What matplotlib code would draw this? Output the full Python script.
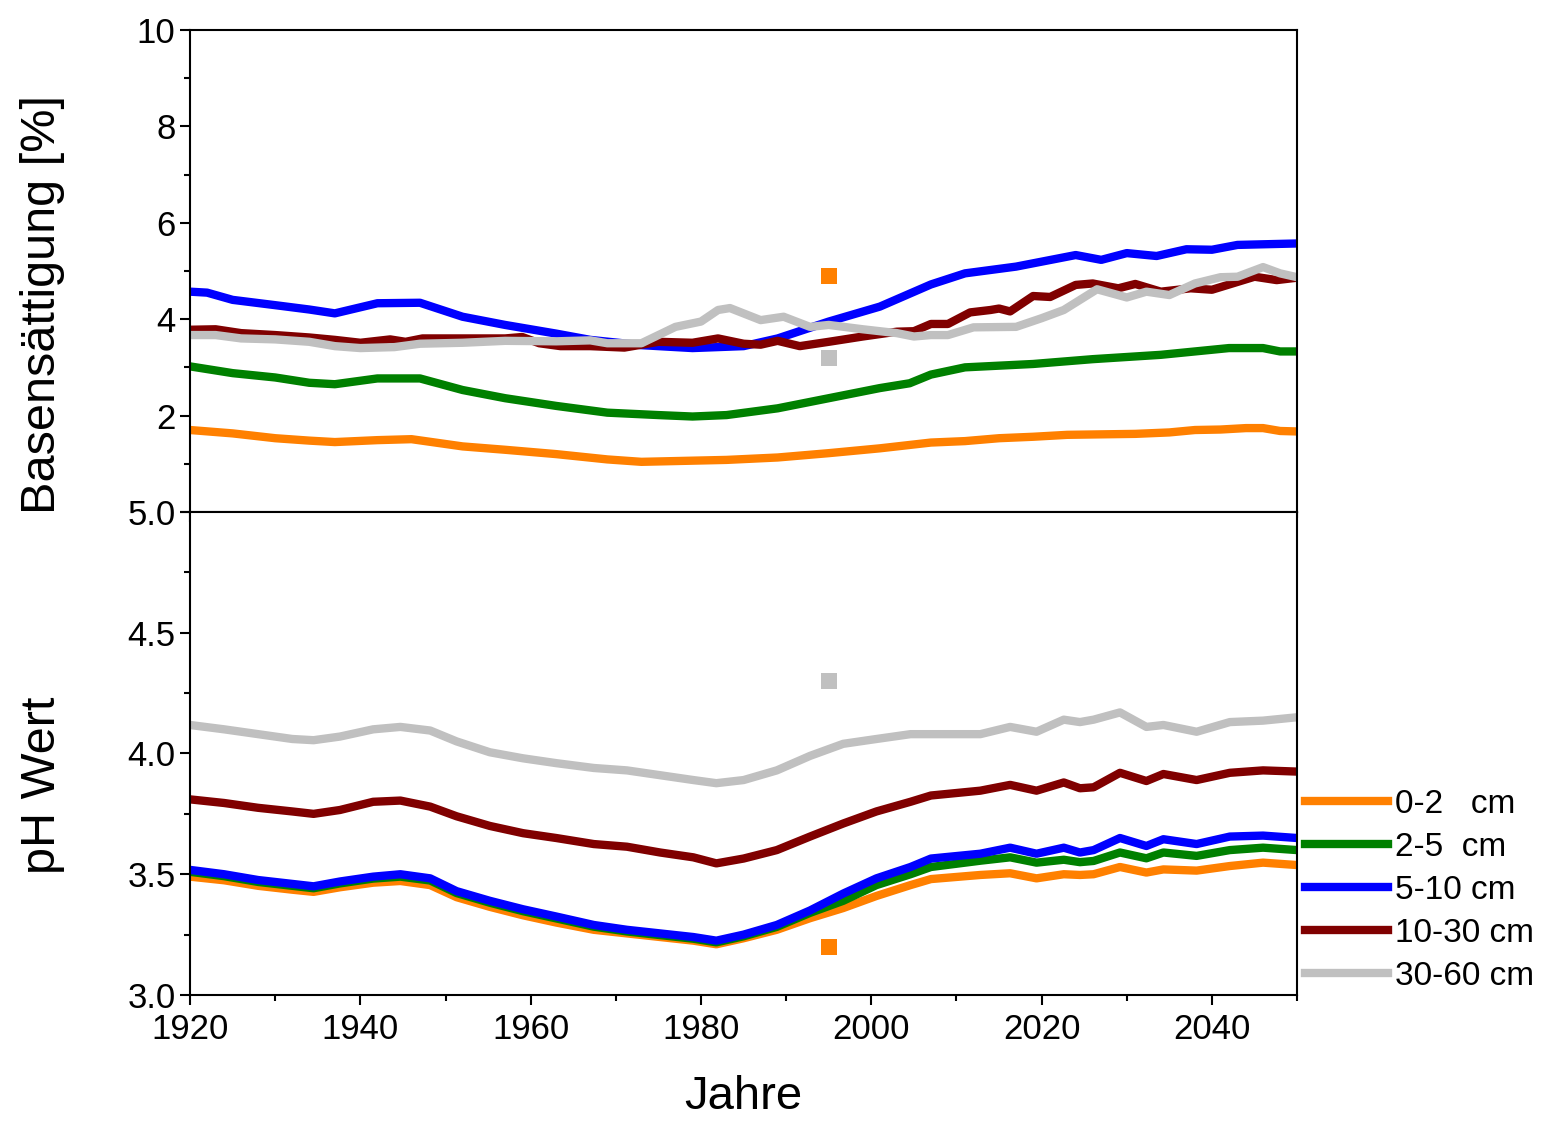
import numpy as np
import matplotlib
matplotlib.use('Agg')
import matplotlib.pyplot as plt
from matplotlib.ticker import MultipleLocator, FormatStrFormatter

plt.rcParams['font.family'] = ['Liberation Sans', 'DejaVu Sans']

# ---- data ----
labels = ['0-2   cm', '2-5  cm', '5-10 cm', '10-30 cm', '30-60 cm']
colors = ['#FF8000', '#008000', '#0000FF', '#800000', '#C0C0C0']

# Basensaettigung [%] (top panel)
yr_bs_0_2 = [1920, 1925, 1930, 1934, 1937, 1942, 1946, 1952, 1957, 1963, 1969, 1973, 1978, 1983, 1989,
             1995, 2001, 2007, 2011, 2015, 2019, 2023, 2027, 2031, 2035, 2038, 2041, 2044, 2046, 2048, 2050]
bs_0_2 = [1.70, 1.63, 1.53, 1.48, 1.45, 1.49, 1.51, 1.36, 1.29, 1.20, 1.09, 1.04, 1.06, 1.08, 1.13,
          1.22, 1.32, 1.44, 1.47, 1.53, 1.56, 1.60, 1.61, 1.62, 1.65, 1.70, 1.71, 1.74, 1.74, 1.68, 1.67]

yr_bs_2_5 = [1920, 1925, 1930, 1934, 1937, 1942, 1947, 1952, 1957, 1963, 1969, 1975, 1979, 1983, 1989,
             1995, 2001, 2004.5, 2007, 2011, 2019, 2026, 2034, 2042, 2046, 2048, 2050]
bs_2_5 = [3.02, 2.88, 2.79, 2.68, 2.65, 2.77, 2.77, 2.53, 2.36, 2.20, 2.06, 2.01, 1.98, 2.01, 2.15,
          2.36, 2.57, 2.67, 2.85, 3.00, 3.07, 3.17, 3.26, 3.40, 3.40, 3.33, 3.33]

yr_bs_5_10 = [1920, 1922, 1925, 1930, 1934, 1937, 1942, 1947, 1952, 1957, 1963, 1967, 1973, 1979, 1985,
              1989, 1995, 2001, 2007, 2011, 2017, 2024, 2027, 2030, 2033.5, 2037, 2040, 2043, 2050]
bs_5_10 = [4.57, 4.55, 4.40, 4.29, 4.20, 4.12, 4.33, 4.34, 4.05, 3.88, 3.70, 3.57, 3.46, 3.40, 3.44,
           3.60, 3.95, 4.26, 4.72, 4.95, 5.09, 5.33, 5.23, 5.37, 5.31, 5.45, 5.44, 5.54, 5.57]

yr_bs_10_30 = [1920, 1923, 1926, 1930, 1934, 1937, 1940, 1943.5, 1945.3, 1947.3, 1952, 1957, 1959, 1961,
               1963.5, 1967, 1971, 1975, 1979, 1982, 1985, 1987, 1989, 1991.6, 1995, 1999, 2003, 2005,
               2007, 2009, 2011.6, 2014, 2015, 2016.3, 2019, 2021, 2024, 2026, 2029, 2031, 2034, 2037.5,
               2040, 2045, 2047.6, 2050]
bs_10_30 = [3.78, 3.79, 3.71, 3.67, 3.62, 3.57, 3.51, 3.58, 3.53, 3.60, 3.60, 3.60, 3.63, 3.50,
            3.44, 3.44, 3.41, 3.53, 3.51, 3.60, 3.49, 3.47, 3.55, 3.44, 3.53, 3.64, 3.74, 3.75,
            3.90, 3.90, 4.14, 4.19, 4.22, 4.16, 4.48, 4.46, 4.71, 4.74, 4.64, 4.73, 4.57, 4.64,
            4.61, 4.88, 4.81, 4.86]

yr_bs_30_60 = [1920, 1923, 1926, 1930, 1934, 1937, 1940, 1944, 1947, 1952, 1957, 1963, 1967, 1969, 1973,
               1975, 1977, 1980, 1982, 1983.4, 1987, 1989.7, 1992.8, 1995, 1999, 2003, 2005, 2007, 2009,
               2012, 2017, 2020, 2022.6, 2026.5, 2030, 2032.3, 2035, 2038, 2041, 2043, 2046, 2048, 2050]
bs_30_60 = [3.67, 3.67, 3.60, 3.58, 3.53, 3.44, 3.40, 3.42, 3.49, 3.51, 3.55, 3.54, 3.56, 3.50, 3.50,
            3.67, 3.84, 3.95, 4.19, 4.23, 3.98, 4.05, 3.84, 3.88, 3.79, 3.71, 3.64, 3.67, 3.67,
            3.83, 3.84, 4.02, 4.19, 4.62, 4.45, 4.57, 4.50, 4.74, 4.87, 4.88, 5.08, 4.95, 4.87]

# pH Wert (bottom panel)
yr_ph = [1920, 1924, 1928, 1932, 1934.5, 1937.6, 1941.5, 1944.7, 1948.2, 1951.3, 1955.2, 1959.1, 1963,
         1967.4, 1971.3, 1975.2, 1979.1, 1981.8, 1985, 1988.9, 1992.8, 1996.7, 2000.6, 2004.6, 2007,
         2012.8, 2016.3, 2019.4, 2022.6, 2024.5, 2026.1, 2029.2, 2032.3, 2034.3, 2038.2, 2042.1, 2046, 2050]
ph_0_2 = [3.490, 3.475, 3.452, 3.436, 3.427, 3.446, 3.465, 3.472, 3.455, 3.405, 3.365, 3.330, 3.300,
          3.270, 3.255, 3.240, 3.225, 3.210, 3.235, 3.270, 3.318, 3.360, 3.410, 3.455, 3.480,
          3.497, 3.504, 3.483, 3.500, 3.497, 3.500, 3.530, 3.507, 3.520, 3.515, 3.534, 3.548, 3.538]
ph_2_5 = [3.510, 3.492, 3.468, 3.452, 3.442, 3.462, 3.482, 3.490, 3.474, 3.422, 3.382, 3.347, 3.317,
          3.283, 3.263, 3.248, 3.233, 3.218, 3.243, 3.282, 3.340, 3.390, 3.455, 3.500, 3.530,
          3.556, 3.570, 3.548, 3.560, 3.550, 3.555, 3.590, 3.566, 3.590, 3.576, 3.600, 3.610, 3.600]
ph_5_10 = [3.518, 3.500, 3.476, 3.460, 3.450, 3.470, 3.490, 3.500, 3.483, 3.430, 3.390, 3.355, 3.325,
           3.290, 3.270, 3.255, 3.240, 3.225, 3.250, 3.290, 3.350, 3.420, 3.483, 3.530, 3.565,
           3.585, 3.610, 3.585, 3.610, 3.590, 3.600, 3.650, 3.617, 3.645, 3.625, 3.656, 3.660, 3.650]
ph_10_30 = [3.810, 3.795, 3.775, 3.760, 3.750, 3.766, 3.800, 3.805, 3.780, 3.740, 3.700, 3.670, 3.650,
            3.625, 3.614, 3.590, 3.570, 3.545, 3.565, 3.600, 3.656, 3.710, 3.760, 3.800, 3.826,
            3.846, 3.870, 3.846, 3.880, 3.856, 3.860, 3.920, 3.886, 3.915, 3.890, 3.920, 3.930, 3.925]
ph_30_60 = [4.118, 4.100, 4.080, 4.060, 4.055, 4.070, 4.100, 4.110, 4.095, 4.050, 4.005, 3.980, 3.960,
            3.940, 3.930, 3.910, 3.890, 3.877, 3.890, 3.930, 3.990, 4.040, 4.060, 4.080, 4.080,
            4.080, 4.110, 4.090, 4.140, 4.130, 4.140, 4.170, 4.110, 4.118, 4.090, 4.130, 4.136, 4.150]

# single measured points (1995)
meas_year = 1995
meas_bs = [4.90, 3.20]      # 0-2 cm, 30-60 cm
meas_ph = [3.20, 4.30]      # 0-2 cm, 30-60 cm

bs_years = [yr_bs_0_2, yr_bs_2_5, yr_bs_5_10, yr_bs_10_30, yr_bs_30_60]
bs_vals = [bs_0_2, bs_2_5, bs_5_10, bs_10_30, bs_30_60]
ph_vals = [ph_0_2, ph_2_5, ph_5_10, ph_10_30, ph_30_60]

# ---- plot ----
fig = plt.figure(figsize=(15.44, 11.21), dpi=100)
ax1 = fig.add_axes([0.1231, 0.5433, 0.7170, 0.4300])
ax2 = fig.add_axes([0.1231, 0.1124, 0.7170, 0.4309])

lw = 6
for yr, v, c, lab in zip(bs_years, bs_vals, colors, labels):
    ax1.plot(yr, v, color=c, lw=lw, label=lab)
for v, c, lab in zip(ph_vals, colors, labels):
    ax2.plot(yr_ph, v, color=c, lw=lw, label=lab)

ax1.plot([meas_year], [meas_bs[0]], 's', color=colors[0], ms=11.5, mew=0)
ax1.plot([meas_year], [meas_bs[1]], 's', color=colors[4], ms=11.5, mew=0)
ax2.plot([meas_year], [meas_ph[0]], 's', color=colors[0], ms=11.5, mew=0)
ax2.plot([meas_year], [meas_ph[1]], 's', color=colors[4], ms=11.5, mew=0)

for ax in (ax1, ax2):
    ax.set_xlim(1920, 2050)
    ax.xaxis.set_major_locator(MultipleLocator(20))
    ax.xaxis.set_minor_locator(MultipleLocator(10))
    ax.tick_params(which='both', direction='out', width=1.5, labelsize=25,
                   top=False, right=False)
    ax.tick_params(which='major', length=7)
    ax.tick_params(which='minor', length=4)
    ax.tick_params(axis='x', which='major', pad=6)
    for sp in ax.spines.values():
        sp.set_linewidth(1.5)

ax1.set_ylim(0, 10)
ax1.set_yticks([0, 2, 4, 6, 8, 10])
ax1.set_yticklabels(['', '2', '4', '6', '8', '10'])
ax1.yaxis.set_minor_locator(MultipleLocator(1))
ax1.tick_params(axis='x', labelbottom=False)
ax1.set_ylabel('Basensättigung [%]', fontsize=35)
ax1.yaxis.set_label_coords(-0.113, 0.43)

ax2.set_ylim(3.0, 5.0)
ax2.yaxis.set_major_locator(MultipleLocator(0.5))
ax2.yaxis.set_minor_locator(MultipleLocator(0.25))
ax2.yaxis.set_major_formatter(FormatStrFormatter('%.1f'))
ax2.set_ylabel('pH Wert', fontsize=35)
ax2.yaxis.set_label_coords(-0.113, 0.435)
ax2.set_xlabel('Jahre', fontsize=34)
ax2.xaxis.set_label_coords(0.5, -0.165)

ax2.legend(loc='center left', bbox_to_anchor=(0.845, 0.2056), bbox_transform=fig.transFigure,
           frameon=False, fontsize=24, handlelength=2.5, handletextpad=0.2,
           labelspacing=0.36, borderpad=0, borderaxespad=0)

fig.savefig('out.png', dpi=100)
